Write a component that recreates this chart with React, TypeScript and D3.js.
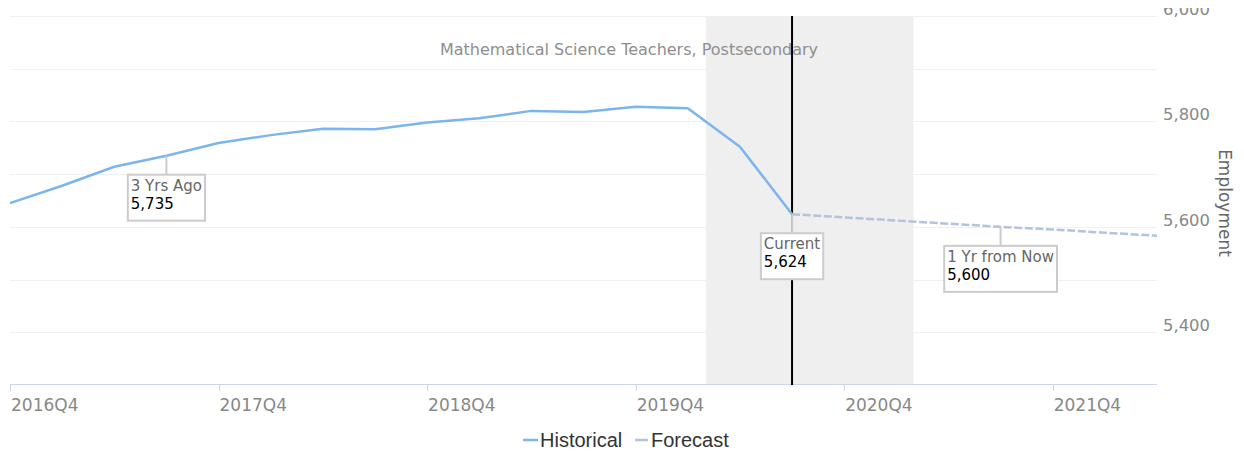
import * as d3 from "d3";
import { useEffect, useRef } from "react";

// quarters on the x axis (index = position)
const quarters = [
  "2016Q4", "2017Q1", "2017Q2", "2017Q3", "2017Q4", "2018Q1", "2018Q2", "2018Q3",
  "2018Q4", "2019Q1", "2019Q2", "2019Q3", "2019Q4", "2020Q1", "2020Q2", "2020Q3",
  "2020Q4", "2021Q1", "2021Q2", "2021Q3", "2021Q4", "2022Q1", "2022Q2",
];
const historical = [
  5645, 5678, 5714, 5735, 5759, 5774, 5786, 5785, 5798, 5806, 5820, 5818, 5828, 5825, 5752, 5624,
];
const forecastStart = "2020Q3";
const forecast = [5624, 5618, 5612, 5606, 5600, 5595, 5589, 5583];
const xTickLabels = ["2016Q4", "2017Q4", "2018Q4", "2019Q4", "2020Q4", "2021Q4"];
const yTickLabels = [5400, 5600, 5800, 6000];
const yGridValues = [5400, 5500, 5600, 5700, 5800, 5900, 6000];
// shaded band, in quarter positions
const bandRange = [13.35, 17.33];
const callouts = [
  { label: "3 Yrs Ago", quarter: "2017Q3", value: 5735 },
  { label: "Current", quarter: "2020Q3", value: 5624 },
  { label: "1 Yr from Now", quarter: "2021Q3", value: 5600 },
];
const title = "Mathematical Science Teachers, Postsecondary";

const Chart = () => {
  const ref = useRef<SVGSVGElement>(null);

  useEffect(() => {
    const svg = d3.select(ref.current);
    svg.selectAll("*").remove();

    const width = 1244;
    const height = 453;
    const left = 10;
    const right = 1157;
    const top = 16;
    const bottom = 385;
    const font = "DejaVu Sans, sans-serif";

    svg.attr("width", width).attr("height", height);

    const x = d3.scaleLinear().domain([0, quarters.length - 1]).range([left, right]);
    const xq = (q: string) => x(quarters.indexOf(q));
    const y = d3.scaleLinear().domain([5300, 6000]).range([bottom, top]);

    // the top of the chart is cut off a little (top label only half visible)
    svg
      .append("defs")
      .append("clipPath")
      .attr("id", "ylab-clip")
      .append("rect")
      .attr("x", 0)
      .attr("y", 8)
      .attr("width", width)
      .attr("height", height);

    // band
    svg
      .append("rect")
      .attr("x", x(bandRange[0]))
      .attr("y", top)
      .attr("width", x(bandRange[1]) - x(bandRange[0]))
      .attr("height", 384 - top)
      .attr("fill", "#efefef");

    // gridlines
    svg
      .append("g")
      .selectAll("line")
      .data(yGridValues)
      .join("line")
      .attr("x1", left)
      .attr("x2", right)
      .attr("y1", (d) => Math.round(y(d)) + 0.5)
      .attr("y2", (d) => Math.round(y(d)) + 0.5)
      .attr("stroke", "#f0f0f0")
      .attr("stroke-width", 1);

    // y labels
    svg
      .append("g")
      .attr("clip-path", "url(#ylab-clip)")
      .selectAll("text")
      .data(yTickLabels)
      .join("text")
      .attr("x", 1163)
      .attr("y", (d) => y(d) - 1)
      .attr("font-family", font)
      .attr("font-size", 16.4)
      .attr("fill", "#888")
      .text((d) => d3.format(",")(d));

    svg
      .append("text")
      .attr("transform", `translate(1219,203) rotate(90)`)
      .attr("text-anchor", "middle")
      .attr("font-family", font)
      .attr("font-size", 17)
      .attr("fill", "#666")
      .text("Employment");

    // x axis
    svg
      .append("line")
      .attr("x1", left)
      .attr("x2", right)
      .attr("y1", 384.5)
      .attr("y2", 384.5)
      .attr("stroke", "#ccd6eb");
    const xt = svg.append("g").selectAll("g").data(xTickLabels).join("g");
    xt.append("line")
      .attr("x1", (d) => Math.round(xq(d)) + 0.5)
      .attr("x2", (d) => Math.round(xq(d)) + 0.5)
      .attr("y1", 384)
      .attr("y2", 391)
      .attr("stroke", "#ccd6eb");
    xt.append("text")
      .attr("x", (d) => xq(d) + 1)
      .attr("y", 411)
      .attr("font-family", font)
      .attr("font-size", 17)
      .attr("fill", "#888")
      .text((d) => d);

    // title
    svg
      .append("text")
      .attr("x", 629)
      .attr("y", 55)
      .attr("text-anchor", "middle")
      .attr("font-family", font)
      .attr("font-size", 16)
      .attr("fill", "#8e8e8e")
      .text(title);

    // current line
    svg
      .append("line")
      .attr("x1", xq(forecastStart))
      .attr("x2", xq(forecastStart))
      .attr("y1", top)
      .attr("y2", 385)
      .attr("stroke", "#000")
      .attr("stroke-width", 2);

    // series
    const line = d3
      .line<number>()
      .x((_, i) => x(i))
      .y((d) => y(d));
    svg
      .append("path")
      .attr("d", line(historical))
      .attr("fill", "none")
      .attr("stroke", "#7cb5ec")
      .attr("stroke-width", 2.5)
      .attr("stroke-linejoin", "round");

    const fOffset = quarters.indexOf(forecastStart);
    const fline = d3
      .line<number>()
      .x((_, i) => x(i + fOffset))
      .y((d) => y(d));
    svg
      .append("path")
      .attr("d", fline(forecast))
      .attr("fill", "none")
      .attr("stroke", "#b0c4de")
      .attr("stroke-width", 2.5)
      .attr("stroke-dasharray", "8,2.6");

    // callouts
    callouts.forEach((c) => {
      const px = xq(c.quarter);
      const py = y(c.value);
      const boxTop = py + 19;
      const g = svg.append("g");
      g.append("line")
        .attr("x1", px)
        .attr("x2", px)
        .attr("y1", py)
        .attr("y2", boxTop)
        .attr("stroke", "#ccc")
        .attr("stroke-width", 2);
      const rect = g.append("rect");
      const t1 = g
        .append("text")
        .attr("font-family", font)
        .attr("font-size", 15)
        .attr("fill", "#666")
        .text(c.label);
      const t2 = g
        .append("text")
        .attr("font-family", font)
        .attr("font-size", 15)
        .attr("fill", "#000")
        .text(d3.format(",")(c.value));
      const w =
        Math.max(
          (t1.node() as SVGTextElement).getComputedTextLength(),
          (t2.node() as SVGTextElement).getComputedTextLength()
        ) + 6;
      const bx = px - w / 2;
      rect
        .attr("x", bx)
        .attr("y", boxTop)
        .attr("width", w)
        .attr("height", 46)
        .attr("fill", "#fff")
        .attr("stroke", "#ccc")
        .attr("stroke-width", 2);
      t1.attr("x", bx + 3).attr("y", boxTop + 16);
      t2.attr("x", bx + 3).attr("y", boxTop + 34);
    });

    // legend
    const legend = [
      { name: "Historical", color: "#7cb5ec", x0: 523, x1: 538, tx: 540 },
      { name: "Forecast", color: "#b0c4de", x0: 635, x1: 648, tx: 651 },
    ];
    const lg = svg.append("g").selectAll("g").data(legend).join("g");
    lg.append("line")
      .attr("x1", (d) => d.x0)
      .attr("x2", (d) => d.x1)
      .attr("y1", 440)
      .attr("y2", 440)
      .attr("stroke", (d) => d.color)
      .attr("stroke-width", 2.5);
    lg.append("text")
      .attr("x", (d) => d.tx)
      .attr("y", 447)
      .attr("font-family", "Liberation Sans, Arial, sans-serif")
      .attr("font-size", 20)
      .attr("fill", "#333")
      .text((d) => d.name);
  }, []);

  return <svg ref={ref} style={{ display: "block" }}></svg>;
};

export default function App() {
  return (
    <div style={{ position: "absolute", left: 0, top: 0, background: "#fff" }}>
      <Chart />
    </div>
  );
}
